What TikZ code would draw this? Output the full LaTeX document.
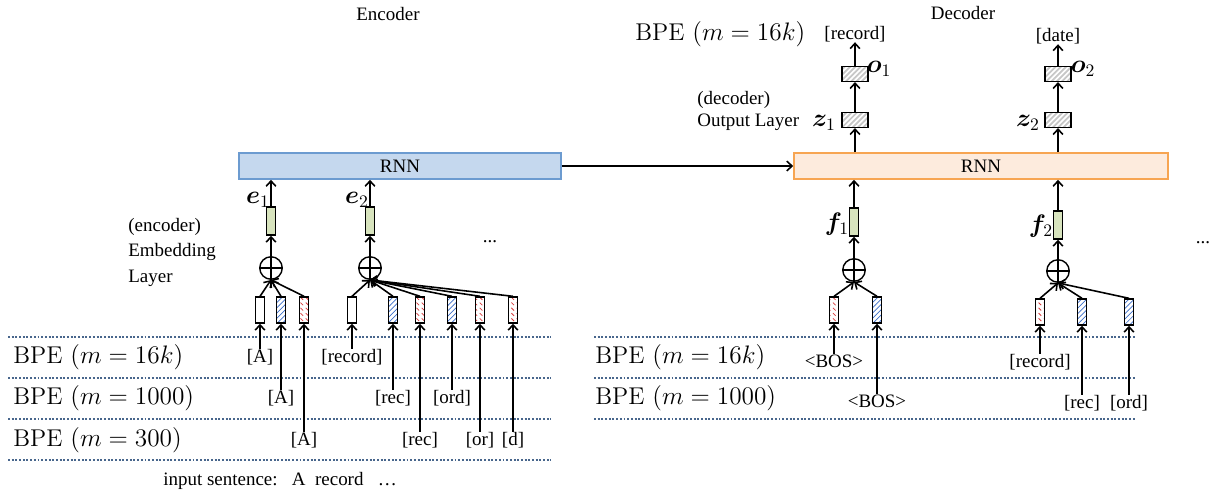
\documentclass[tikz,border=0pt]{standalone}
\usepackage{amsmath}
\usepackage{bm}
\usepackage{fontspec}
\setmainfont{Liberation Serif}
\newfontfamily\bpefont{Latin Modern Roman}
\usepackage{xcolor}
\usepackage{tikz}
\usetikzlibrary{arrows.meta, positioning, patterns}

\definecolor{encfill}{RGB}{197,216,238}
\definecolor{encline}{RGB}{108,155,208}
\definecolor{decfill}{RGB}{253,235,221}
\definecolor{decline}{RGB}{247,165,82}
\definecolor{embfill}{RGB}{216,228,190}
\definecolor{rowline}{RGB}{72,102,140}
\definecolor{hatchblue}{RGB}{60,110,200}
\definecolor{hatchred}{RGB}{215,60,60}

% thick grey stripes for the output layer boxes
\pgfdeclarepatternformonly{greyhatch}{\pgfqpoint{-1pt}{-1pt}}{\pgfqpoint{4pt}{4pt}}{\pgfqpoint{3pt}{3pt}}{%
  \pgfsetlinewidth{1pt}%
  \pgfpathmoveto{\pgfqpoint{0pt}{0pt}}%
  \pgfpathlineto{\pgfqpoint{3.1pt}{3.1pt}}%
  \pgfusepath{stroke}}
% short dashes for the m=300 tokens
\pgfdeclarepatternformonly{dashhatch}{\pgfqpoint{-1pt}{-1pt}}{\pgfqpoint{4pt}{4pt}}{\pgfqpoint{3pt}{3pt}}{%
  \pgfsetlinewidth{0.45pt}%
  \pgfpathmoveto{\pgfqpoint{0pt}{1.5pt}}%
  \pgfpathlineto{\pgfqpoint{1.5pt}{0pt}}%
  \pgfusepath{stroke}}

\begin{document}
\begin{tikzpicture}[
            x=0.2mm, y=-0.2mm,
            >={Straight Barb[length=3pt,width=5.5pt]},
            txt/.style={font=\fontsize{10.8}{13}\selectfont, inner sep=0pt},
            bpe/.style={font=\bpefont\fontsize{13.8}{16}\selectfont, anchor=west, inner sep=0pt},
            vec/.style={font=\fontsize{14}{16}\selectfont, inner sep=0pt},
            rnn/.style={line width=0.9pt, minimum height=5.2mm, inner sep=0pt, font=\fontsize{10.8}{13}\selectfont},
            encrnn/.style={rnn, draw=encline, fill=encfill, minimum width=64.4mm},
            decrnn/.style={rnn, draw=decline, fill=decfill, minimum width=74.8mm},
            emb/.style={draw, line width=0.8pt, fill=embfill, minimum width=1.8mm, minimum height=5.6mm, inner sep=0pt},
            tok/.style={draw, line width=0.8pt, minimum width=1.8mm, minimum height=5.2mm, inner sep=0pt},
            tokblue/.style={tok, pattern=north east lines, pattern color=hatchblue},
            tokred/.style={tok, pattern=dashhatch, pattern color=hatchred},
            outbox/.style={draw, line width=0.6pt, minimum width=5.2mm, minimum height=3mm, inner sep=0pt, pattern=greyhatch, pattern color=black!22},
            sum/.style={circle, draw, line width=0.8pt, minimum size=4.5mm, inner sep=0pt,
                path picture={\draw[line width=0.8pt] (path picture bounding box.north) -- (path picture bounding box.south)
                    (path picture bounding box.west) -- (path picture bounding box.east);}},
            row/.style={rowline, line width=1.1pt, densely dotted},
            flow/.style={->, line width=0.9pt}
        ]
        \useasboundingbox (0,0) rectangle (1211,495);

        % Titles
        \node[txt] (enctitle) at (388,14) {Encoder};
        \node[txt] (dectitle) at (963,13) {Decoder};

        % RNN blocks
        \node[encrnn] (encrnn) at (400,166) {RNN};
        \node[decrnn] (decrnn) at (981,166) {RNN};
        \draw[flow] (encrnn.east) -- (decrnn.west);

        % BPE tables
        \draw[row] (8,337) -- (551,337);
        \draw[row] (8,378) -- (551,378);
        \draw[row] (8,419) -- (551,419);
        \draw[row] (8,460) -- (551,460);
        \draw[row] (594,337) -- (1135,337);
        \draw[row] (594,378) -- (1135,378);
        \draw[row] (594,419) -- (1135,419);

        \node[bpe] (encbpeA) at (13,357) {BPE $(m=16k)$};
        \node[bpe] (encbpeB) at (13,398) {BPE $(m=1000)$};
        \node[bpe] (encbpeC) at (13,440) {BPE $(m=300)$};
        \node[bpe] (decbpeA) at (595,357) {BPE $(m=16k)$};
        \node[bpe] (decbpeB) at (595,398) {BPE $(m=1000)$};
        \node[bpe] (outbpe) at (635,34) {BPE $(m=16k)$};

        \node[txt, align=left, anchor=west, font=\fontsize{10.8}{14.5}\selectfont] (emblayer) at (128,252) {(encoder)\\Embedding\\Layer};
        \node[txt, align=left, anchor=west] (outlayer) at (697,111) {(decoder)\\Output Layer};

        % Encoder, first word
        \node[tok] (a1) at (260,310) {};
        \node[tokblue] (a2) at (281,310) {};
        \node[tokred] (a3) at (304,310) {};
        \node[sum] (s1) at (271,268) {};
        \node[emb] (e1box) at (271,221) {};
        \node[vec] (e1) at (258,200) {$\bm{e}_1$};

        \node[txt] (wa1) at (260,357) {[A]};
        \node[txt] (wa2) at (281,398) {[A]};
        \node[txt] (wa3) at (304,440) {[A]};

        % Encoder, second word
        \node[tok] (b1) at (352,310) {};
        \node[tokblue] (b2) at (393,310) {};
        \node[tokred] (b3) at (420,310) {};
        \node[tokblue] (b4) at (452,310) {};
        \node[tokred] (b5) at (480,310) {};
        \node[tokred] (b6) at (513,310) {};
        \node[sum] (s2) at (370,268) {};
        \node[emb] (e2box) at (370,221) {};
        \node[vec] (e2) at (357,200) {$\bm{e}_2$};

        \node[txt] (wb1) at (352,357) {[record]};
        \node[txt] (wb2) at (393,398) {[rec]};
        \node[txt] (wb3) at (420,440) {[rec]};
        \node[txt] (wb4) at (452,398) {[ord]};
        \node[txt] (wb5) at (480,440) {[or]};
        \node[txt] (wb6) at (513,440) {[d]};

        \node[txt] (encdots) at (490,242) {...};
        \node[txt] (sentence) at (280,481) {input sentence:\ \ \ A\ \ record\ \ \ \dots};

        % Decoder, first step
        \node[tokred] (d1) at (834,310) {};
        \node[tokblue] (d2) at (877,310) {};
        \node[sum] (s3) at (854,270) {};
        \node[emb] (f1box) at (854,222) {};
        \node[vec] (f1) at (837,224) {$\bm{f}_1$};
        \node[outbox] (z1box) at (855,120) {};
        \node[vec] (z1) at (824,123) {$\bm{z}_1$};
        \node[outbox] (o1box) at (855,74) {};
        \node[vec] (o1) at (879,69) {$\bm{o}_1$};
        \node[txt] (out1) at (855,34) {[record]};

        \node[txt] (wd1) at (834,361) {<BOS>};
        \node[txt] (wd2) at (877,401) {<BOS>};

        % Decoder, second step
        \node[tokred] (c1) at (1040,312) {};
        \node[tokblue] (c2) at (1082,312) {};
        \node[tokblue] (c3) at (1129,312) {};
        \node[sum] (s4) at (1058,271) {};
        \node[emb] (f2box) at (1058,225) {};
        \node[vec] (f2) at (1041,226) {$\bm{f}_2$};
        \node[outbox] (z2box) at (1058,120) {};
        \node[vec] (z2) at (1028,123) {$\bm{z}_2$};
        \node[outbox] (o2box) at (1058,74) {};
        \node[vec] (o2) at (1083,69) {$\bm{o}_2$};
        \node[txt] (out2) at (1058,36) {[date]};

        \node[txt] (wc1) at (1040,362) {[record]};
        \node[txt] (wc2) at (1082,403) {[rec]};
        \node[txt] (wc3) at (1129,403) {[ord]};

        \node[txt] (decdots) at (1203,243) {...};

        % Edges: tokens into the boxes
        \draw[flow] (wa1.north) -- (a1.south);
        \draw[flow] (wa2.north) -- (a2.south);
        \draw[flow] (wa3.north) -- (a3.south);
        \draw[flow] (wb1.north) -- (b1.south);
        \draw[flow] (wb2.north) -- (b2.south);
        \draw[flow] (wb3.north) -- (b3.south);
        \draw[flow] (wb4.north) -- (b4.south);
        \draw[flow] (wb5.north) -- (b5.south);
        \draw[flow] (wb6.north) -- (b6.south);
        \draw[flow] (wd1.north) -- (d1.south);
        \draw[flow] (wd2.north) -- (d2.south);
        \draw[flow] (wc1.north) -- (c1.south);
        \draw[flow] (wc2.north) -- (c2.south);
        \draw[flow] (wc3.north) -- (c3.south);

        % Edges: boxes into the sums
        \draw[flow] (a1.north) -- (s1.south);
        \draw[flow] (a2.north) -- (s1.south);
        \draw[flow] (a3.north) -- (s1.south);
        \draw[flow] (b1.north) -- (s2.south);
        \draw[flow] (b2.north) -- (s2.south);
        \draw[flow] (b3.north) -- (s2.south);
        \draw[flow] (b4.north) -- (s2.south);
        \draw[flow] (b5.north) -- (s2.south);
        \draw[flow] (b6.north) -- (s2.south);
        \draw[flow] (d1.north) -- (s3.south);
        \draw[flow] (d2.north) -- (s3.south);
        \draw[flow] (c1.north) -- (s4.south);
        \draw[flow] (c2.north) -- (s4.south);
        \draw[flow] (c3.north) -- (s4.south);

        % Edges: sums up to the RNNs
        \draw[flow] (s1.north) -- (e1box.south);
        \draw[flow] (s2.north) -- (e2box.south);
        \draw[flow] (s3.north) -- (f1box.south);
        \draw[flow] (s4.north) -- (f2box.south);
        \draw[flow] (e1box.north) -- (e1box |- encrnn.south);
        \draw[flow] (e2box.north) -- (e2box |- encrnn.south);
        \draw[flow] (f1box.north) -- (f1box |- decrnn.south);
        \draw[flow] (f2box.north) -- (f2box |- decrnn.south);

        % Edges: output layer
        \draw[flow] (z1box |- decrnn.north) -- (z1box.south);
        \draw[flow] (z2box |- decrnn.north) -- (z2box.south);
        \draw[flow] (z1box.north) -- (o1box.south);
        \draw[flow] (z2box.north) -- (o2box.south);
        \draw[flow] (o1box.north) -- (out1.south);
        \draw[flow] (o2box.north) -- (out2.south);

    \end{tikzpicture}
\end{document}
